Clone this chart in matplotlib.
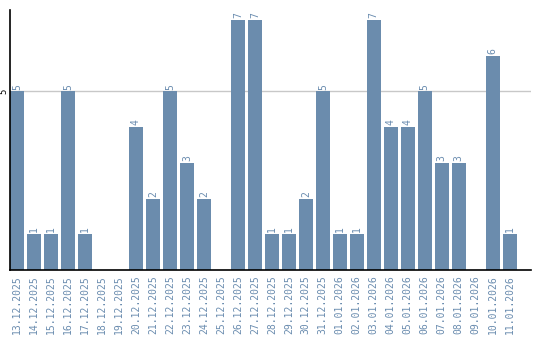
import matplotlib
matplotlib.use('Agg')
import matplotlib.pyplot as plt

dates = ['13.12.2025', '14.12.2025', '15.12.2025', '16.12.2025', '17.12.2025',
         '18.12.2025', '19.12.2025', '20.12.2025', '21.12.2025', '22.12.2025',
         '23.12.2025', '24.12.2025', '25.12.2025', '26.12.2025', '27.12.2025',
         '28.12.2025', '29.12.2025', '30.12.2025', '31.12.2025', '01.01.2026',
         '02.01.2026', '03.01.2026', '04.01.2026', '05.01.2026', '06.01.2026',
         '07.01.2026', '08.01.2026', '09.01.2026', '10.01.2026', '11.01.2026']
counts = [5, 1, 1, 5, 1, 0, 0, 4, 2, 5, 3, 2, 0, 7, 7,
          1, 1, 2, 5, 1, 1, 7, 4, 4, 5, 3, 3, 0, 6, 1]

bar_color = '#6b8cad'
text_color = '#6a8caf'

fig = plt.figure(figsize=(5.4, 3.4), dpi=100)
ax = fig.add_axes([0.0185, 0.206, 0.9645, 0.765])

x = range(len(dates))
bars = ax.bar(x, counts, width=0.82, color=bar_color, zorder=2)

# value labels above bars (skip empty days)
for bar, val in zip(bars, counts):
    if val == 0:
        continue
    ax.text(bar.get_x() + bar.get_width() / 2, val + 0.05, str(val),
            rotation=90, ha='center', va='bottom', fontsize=7,
            family='DejaVu Sans Mono', color=text_color)

ax.set_xlim(-0.41, 30.24)
ax.set_ylim(0, 7.28)
ax.set_xticks(list(x))
ax.set_xticklabels(dates, rotation=90, fontsize=7, family='DejaVu Sans Mono',
                   color=text_color)
ax.set_yticks([5])
ax.set_yticklabels(['5'], rotation=90, fontsize=6.5, family='DejaVu Sans Mono',
                   va='center')
ax.tick_params(axis='x', length=0, pad=4)
ax.tick_params(axis='y', length=0, pad=1.5)
ax.axhline(5, color='#c8c8c8', linewidth=1, zorder=1)

for side in ['top', 'right']:
    ax.spines[side].set_visible(False)
ax.spines['left'].set_color('black')
ax.spines['bottom'].set_color('black')
ax.spines['left'].set_linewidth(1.2)
ax.spines['bottom'].set_linewidth(1.2)

fig.savefig('out.png', dpi=100)
